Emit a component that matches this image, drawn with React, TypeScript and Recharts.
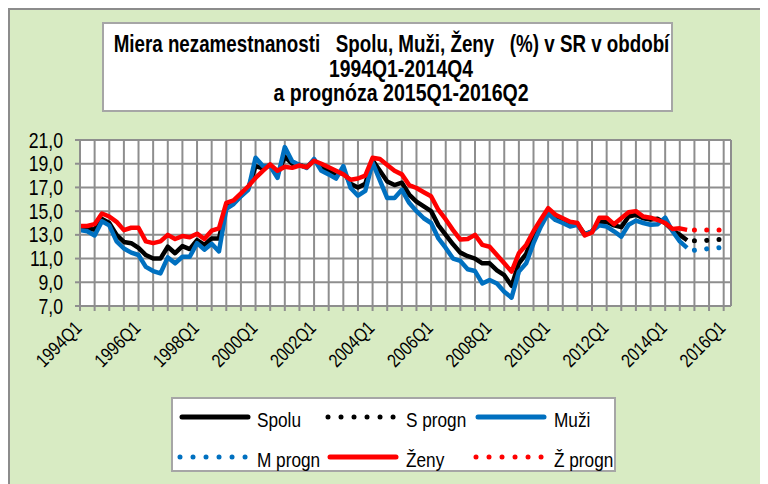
import React from 'react';
import { LineChart, Line, XAxis, YAxis, CartesianGrid } from 'recharts';

const FONT = "'Liberation Sans', Arial, sans-serif";
const NARROW = 0.82;
const GRID = '#8e8e8e';
const BG = '#D8EBC3';

const years = ['1994','1995','1996','1997','1998','1999','2000','2001','2002','2003','2004','2005','2006','2007','2008','2009','2010','2011','2012','2013','2014','2015','2016'];
const quarters = ['Q1','Q2','Q3','Q4'];
const categories: string[] = years.flatMap((y) => quarters.map((q) => y + q)).slice(0, 90);

const spolu = [
  13.5,13.5,13.45,14.35, 14.0,13.0,12.4,12.3, 11.9,11.3,11.0,11.0, 12.0,11.45,12.05,11.8,
  12.55,12.15,12.7,12.7, 15.4,15.7,16.3,16.9, 18.8,18.6,18.9,18.1, 19.6,19.0,18.9,18.7,
  19.3,18.7,18.4,18.0, 18.4,17.3,17.0,17.3, 19.3,18.4,17.5,17.2, 17.4,16.4,15.8,15.4,
  15.0,13.8,13.0,12.2, 11.5,11.2,11.0,10.6, 10.6,10.0,9.6,8.7, 10.6,11.4,13.0,14.1,
  15.0,14.55,14.25,14.0, 13.9,13.05,13.3,14.1, 14.1,13.8,13.65,14.55, 14.7,14.4,14.3,14.35,
  14.0,13.4,13.0,12.55,
];
const muzi = [
  13.4,13.3,12.95,14.15, 13.8,12.45,11.85,11.5, 11.3,10.3,9.95,9.75, 11.1,10.6,11.15,11.15,
  12.3,11.75,12.25,11.6, 15.2,15.6,16.25,16.8, 19.5,18.8,18.8,17.8, 20.4,19.2,18.9,18.65,
  19.4,18.4,18.1,17.75, 18.8,16.95,16.3,16.7, 19.1,17.6,16.1,16.1, 16.8,15.7,15.0,14.4,
  14.0,12.7,11.9,11.0, 10.8,10.1,9.95,8.9, 9.2,8.9,8.2,7.7, 9.9,10.6,12.3,13.7,
  14.8,14.25,14.0,13.7, 13.85,13.0,13.3,13.8, 13.7,13.3,12.85,13.85, 14.2,14.0,13.85,13.9,
  14.45,13.3,12.45,11.9,
];
const zeny = [
  13.75,13.75,13.9,14.8, 14.55,14.1,13.4,13.6, 13.6,12.45,12.3,12.45, 13.0,12.65,12.9,12.8,
  13.1,12.65,13.35,13.55, 15.7,15.9,16.5,17.1, 17.8,18.4,18.95,18.4, 18.75,18.65,18.85,18.7,
  19.25,19.0,18.7,18.4, 18.1,17.65,17.75,18.0, 19.5,19.4,18.9,18.4, 18.1,17.2,16.95,16.6,
  16.25,15.1,14.3,13.4, 12.6,12.65,13.0,12.15, 12.0,11.3,10.6,9.9, 11.45,12.15,13.3,14.3,
  15.25,14.7,14.4,14.1, 14.0,12.95,13.2,14.45, 14.45,13.9,14.4,14.9, 15.0,14.55,14.45,14.25,
  14.0,13.5,13.55,13.42,
];
// forecast 2015Q1 - 2016Q2
const sProgn = [12.5, 12.5, 12.55, 12.6, 12.6, 12.65];
const mProgn = [11.7, 11.75, 11.85, 11.9, 11.95, 12.0];
const zProgn = [13.4, 13.4, 13.4, 13.4, 13.4, 13.4];
const forecastStart = 84;

const yTicks = [7, 9, 11, 13, 15, 17, 19, 21];
const xTicks = Array.from({ length: 45 }, (_, k) => k * 2);

const titleLines = [
  'Miera nezamestnanosti   Spolu, Muži, Ženy   (%) v SR v období',
  '1994Q1-2014Q4',
  'a prognóza 2015Q1-2016Q2',
];

const data = categories.map((label, i) => ({
  i,
  label,
  spolu: i < spolu.length ? spolu[i] : undefined,
  muzi: i < muzi.length ? muzi[i] : undefined,
  zeny: i < zeny.length ? zeny[i] : undefined,
  sP: i >= forecastStart ? sProgn[i - forecastStart] : undefined,
  mP: i >= forecastStart ? mProgn[i - forecastStart] : undefined,
  zP: i >= forecastStart ? zProgn[i - forecastStart] : undefined,
}));

const XTick = (props: any) => {
  const { x, y, payload } = props;
  const v = payload.value as number;
  if (v % 8 !== 0) return <g />;
  const px = x + 3;
  const py = y + 16;
  return (
    <text transform={`translate(${px} ${py}) rotate(-45) scale(${NARROW} 1)`} x={0} y={0} textAnchor="end"
      fontFamily={FONT} fontSize={19} fill="#000">
      {categories[v]}
    </text>
  );
};

const YTick = (props: any) => {
  const { x, y, payload } = props;
  const v = payload.value as number;
  return (
    <text transform={`translate(${x} ${y}) scale(${NARROW} 1)`} x={0} y={0} dy="0.355em" textAnchor="end"
      fontFamily={FONT} fontSize={21.5} fill="#000">
      {v.toFixed(1).replace('.', ',')}
    </text>
  );
};

const legendItems = [
  { label: 'Spolu', color: '#000', dotted: false, x: 9, tx: 86, row: 0 },
  { label: 'S progn', color: '#000', dotted: true, x: 157, tx: 235, row: 0 },
  { label: 'Muži', color: '#0070C0', dotted: false, x: 305, tx: 383, row: 0 },
  { label: 'M progn', color: '#0070C0', dotted: true, x: 9, tx: 86, row: 1 },
  { label: 'Ženy', color: '#FF0000', dotted: false, x: 157, tx: 235, row: 1 },
  { label: 'Ž progn', color: '#FF0000', dotted: true, x: 305, tx: 383, row: 1 },
];

const titleRows = [
  { text: titleLines[0], cx: 289.5, y: 30, sx: 0.816 },
  { text: titleLines[1], cx: 299, y: 55, sx: 0.84 },
  { text: titleLines[2], cx: 299, y: 79, sx: 0.85 },
];

export default function App() {
  return (
    <div style={{ position: 'relative', width: 760, height: 476, background: BG, overflow: 'hidden' }}>
      <div style={{ position: 'absolute', left: 0, top: 0, width: 760, height: 476, borderLeft: '2px solid #8c8c8c', borderTop: '2px solid #8c8c8c', boxSizing: 'border-box', pointerEvents: 'none', zIndex: 3 }} />
      <div style={{ position: 'absolute', left: 0, top: 0 }}>
        <LineChart width={760} height={476} data={data} margin={{ top: 132, right: 37, bottom: 148, left: 0 }}>
          <CartesianGrid stroke={GRID} strokeWidth={2} fill="#ffffff" fillOpacity={1} />
          <XAxis dataKey="i" type="number" domain={[0, 89]} ticks={xTicks} interval={0}
            tick={<XTick />} tickSize={5} height={30}
            axisLine={{ stroke: GRID, strokeWidth: 2 }} tickLine={{ stroke: GRID, strokeWidth: 2 }} />
          <YAxis type="number" domain={[7, 21]} ticks={yTicks} interval={0} width={72}
            tickSize={5} tickMargin={12} tick={<YTick />}
            axisLine={{ stroke: GRID, strokeWidth: 2 }} tickLine={{ stroke: GRID, strokeWidth: 2 }} />
          <Line type="linear" dataKey="spolu" stroke="#000000" strokeWidth={4.5} dot={false} isAnimationActive={false} strokeLinejoin="round" />
          <Line type="linear" dataKey="sP" stroke="#000000" strokeWidth={5} strokeDasharray="0.01 12.3" strokeLinecap="round" dot={false} isAnimationActive={false} />
          <Line type="linear" dataKey="muzi" stroke="#0070C0" strokeWidth={4.5} dot={false} isAnimationActive={false} strokeLinejoin="round" />
          <Line type="linear" dataKey="mP" stroke="#0070C0" strokeWidth={5} strokeDasharray="0.01 12.3" strokeLinecap="round" dot={false} isAnimationActive={false} />
          <Line type="linear" dataKey="zeny" stroke="#FF0000" strokeWidth={4.5} dot={false} isAnimationActive={false} strokeLinejoin="round" />
          <Line type="linear" dataKey="zP" stroke="#FF0000" strokeWidth={5} strokeDasharray="0.01 12.3" strokeLinecap="round" dot={false} isAnimationActive={false} />
        </LineChart>
      </div>
      <div style={{ position: 'absolute', left: 94, top: 14, width: 571, height: 90, border: '2px solid #a6a6a6', background: '#fff', boxSizing: 'border-box' }}>
        <svg width={571} height={90} style={{ position: 'absolute', left: -2, top: -2, overflow: 'visible' }}>
          {titleRows.map((r) => (
            <text key={r.text} transform={`translate(${r.cx} ${r.y}) scale(${r.sx} 1)`} x={0} y={0}
              textAnchor="middle" fontFamily={FONT} fontWeight="bold" fontSize={23} fill="#000"
              style={{ whiteSpace: 'pre' }}>
              {r.text}
            </text>
          ))}
        </svg>
      </div>
      <div style={{ position: 'absolute', left: 163, top: 389, width: 445, height: 75, border: '2px solid #a6a6a6', background: '#fff', boxSizing: 'border-box' }}>
        <svg width={445} height={75} style={{ position: 'absolute', left: -2, top: -2, overflow: 'visible' }}>
          {legendItems.map((it) => {
            const cy = it.row === 0 ? 20 : 60;
            return (
              <g key={it.label}>
                {it.dotted ? (
                  <line x1={it.x} y1={cy} x2={it.x + 66} y2={cy} stroke={it.color} strokeWidth={5} strokeDasharray="0.01 13" strokeLinecap="round" />
                ) : (
                  <line x1={it.x + 2} y1={cy} x2={it.x + 68} y2={cy} stroke={it.color} strokeWidth={5} strokeLinecap="round" />
                )}
                <text transform={`translate(${it.tx} ${cy + 9.5}) scale(${NARROW} 1)`} x={0} y={0}
                  fontFamily={FONT} fontSize={21} fill="#000">{it.label}</text>
              </g>
            );
          })}
        </svg>
      </div>
    </div>
  );
}
